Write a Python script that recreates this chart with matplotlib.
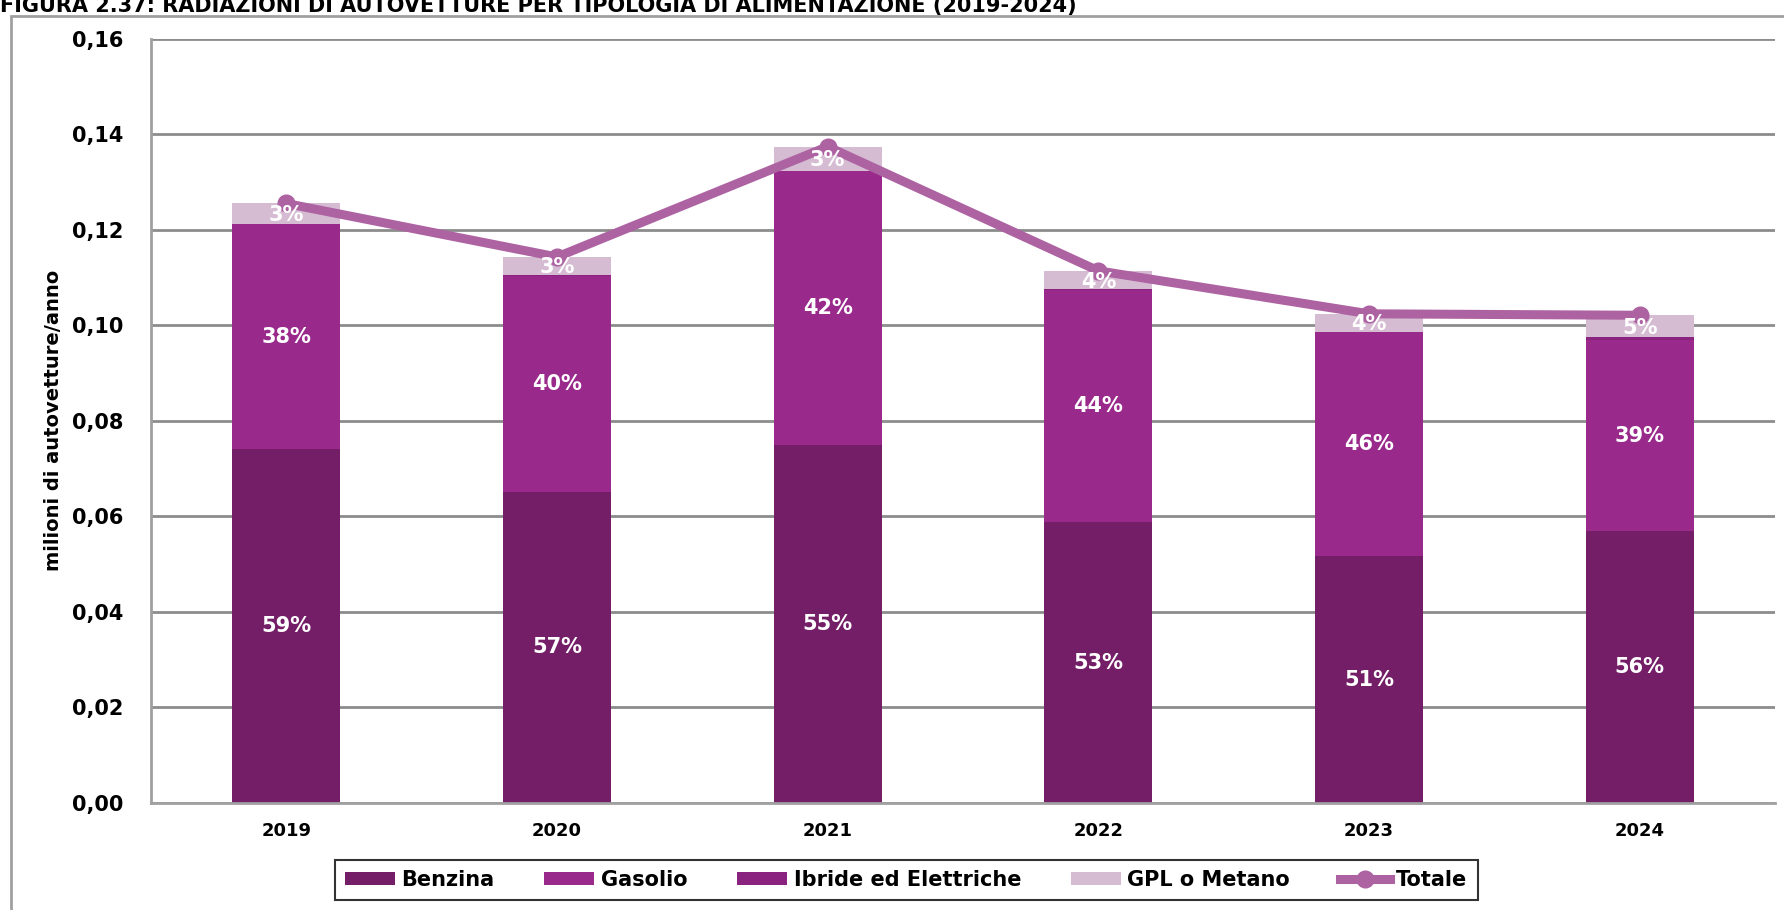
import matplotlib
matplotlib.use("Agg")
import matplotlib.pyplot as plt
from matplotlib.patches import Rectangle
import numpy as np

# dati (milioni di autovetture/anno)
anni = ["2019", "2020", "2021", "2022", "2023", "2024"]
benzina = [0.0740, 0.0652, 0.0750, 0.0588, 0.0517, 0.0569]
gasolio = [0.0472, 0.0452, 0.0573, 0.0485, 0.0468, 0.0400]
ibride = [0.0001, 0.0001, 0.0001, 0.0002, 0.0002, 0.0006]
gpl = [0.0042, 0.0038, 0.0050, 0.0039, 0.0037, 0.0046]
totale = [0.1255, 0.1143, 0.1374, 0.1114, 0.1024, 0.1021]

perc_benzina = ["59%", "57%", "55%", "53%", "51%", "56%"]
perc_gasolio = ["38%", "40%", "42%", "44%", "46%", "39%"]
perc_gpl = ["3%", "3%", "3%", "4%", "4%", "5%"]

y_ticks = [0.00, 0.02, 0.04, 0.06, 0.08, 0.10, 0.12, 0.14, 0.16]

col_benzina = "#731e67"
col_gasolio = "#992a8b"
col_ibride = "#8a2380"
col_gpl = "#d5bcd3"
col_totale = "#ad62a2"

fig = plt.figure(figsize=(17.84, 9.10), dpi=100)

# cornice esterna e titolo (tagliato in alto come nell'originale)
fig.patches.append(Rectangle((11 / 1784, -0.2), 1.2, 1.2 - 16 / 910,
                             transform=fig.transFigure, fill=False,
                             edgecolor="#a0a0a0", linewidth=2, zorder=0))
fig.text(0.0, 0.993, "FIGURA 2.37: RADIAZIONI DI AUTOVETTURE PER TIPOLOGIA DI ALIMENTAZIONE (2019-2024)",
         ha="left", va="center", fontsize=15, fontweight="bold")

ax = fig.add_axes([0.0846, 0.1176, 0.9104, 0.8399])
x = np.arange(len(anni))
w = 0.40

b1 = np.array(benzina)
b2 = b1 + np.array(gasolio)
b3 = b2 + np.array(ibride)

ax.bar(x, benzina, w, color=col_benzina, label="Benzina", zorder=2)
ax.bar(x, gasolio, w, bottom=b1, color=col_gasolio, label="Gasolio", zorder=2)
ax.bar(x, ibride, w, bottom=b2, color=col_ibride, label="Ibride ed Elettriche", zorder=2)
ax.bar(x, gpl, w, bottom=b3, color=col_gpl, label="GPL o Metano", zorder=2)
ax.plot(x, totale, color=col_totale, linewidth=6.5, marker="o", markersize=12,
        label="Totale", zorder=3)

for i in range(len(anni)):
    ax.text(x[i], benzina[i] / 2, perc_benzina[i], ha="center", va="center",
            color="white", fontsize=15, fontweight="bold", zorder=4)
    ax.text(x[i], b1[i] + gasolio[i] / 2, perc_gasolio[i], ha="center", va="center",
            color="white", fontsize=15, fontweight="bold", zorder=4)
    ax.text(x[i], b3[i] + gpl[i] / 2 - 0.0003, perc_gpl[i], ha="center", va="center",
            color="white", fontsize=15, fontweight="bold", zorder=4)

ax.set_xlim(-0.5, len(anni) - 0.5)
ax.set_ylim(0, 0.16)
ax.set_yticks(y_ticks)
ax.set_yticklabels([f"{v:.2f}".replace(".", ",") for v in y_ticks],
                   fontsize=15, fontweight="bold")
ax.set_xticks(x)
ax.set_xticklabels(anni, fontsize=13, fontweight="bold")
ax.tick_params(axis="both", length=0)
ax.tick_params(axis="y", pad=20)
ax.tick_params(axis="x", pad=14)

ax.grid(axis="y", color="#8c8c8c", linewidth=2, zorder=0)
ax.set_axisbelow(True)
for s in ["top", "right"]:
    ax.spines[s].set_visible(False)
for s in ["left", "bottom"]:
    ax.spines[s].set_color("#a0a0a0")
    ax.spines[s].set_linewidth(2)

ax.set_ylabel("milioni di autovetture/anno", fontsize=14, fontweight="bold", labelpad=6)

handles, labels = ax.get_legend_handles_labels()
ordine = ["Benzina", "Gasolio", "Ibride ed Elettriche", "GPL o Metano", "Totale"]
idx = [labels.index(o) for o in ordine]
leg = ax.legend([handles[i] for i in idx], [labels[i] for i in idx],
                loc="center", bbox_to_anchor=(0.508, 0.033), bbox_transform=fig.transFigure,
                ncol=5, frameon=True, fancybox=False, edgecolor="black",
                prop={"weight": "bold", "size": 15},
                handlelength=2.4, handleheight=0.6, handletextpad=0.3,
                columnspacing=2.4, borderpad=0.5)
leg.get_frame().set_linewidth(1.5)

fig.savefig("out.png", dpi=100)
